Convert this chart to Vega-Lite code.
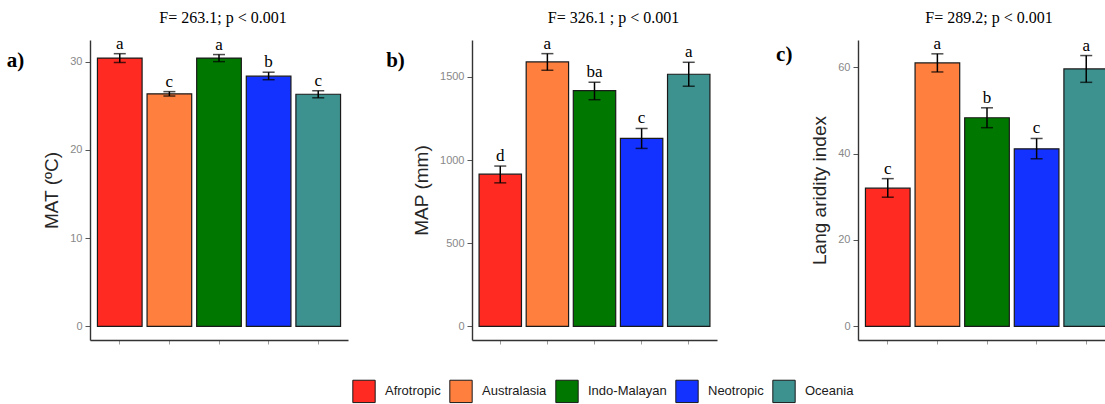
{
  "$schema": "https://vega.github.io/schema/vega-lite/v6.json",
  "padding": {"left": 6, "top": 9, "right": 0, "bottom": 0},
  "background": "white",
  "datasets": {
    "mat": [
      {"region": "Afrotropic", "mean": 30.4, "lo": 29.9, "hi": 30.9, "group": "a"},
      {"region": "Australasia", "mean": 26.35, "lo": 26.1, "hi": 26.6, "group": "c"},
      {"region": "Indo-Malayan", "mean": 30.4, "lo": 30.0, "hi": 30.8, "group": "a"},
      {"region": "Neotropic", "mean": 28.35, "lo": 27.95, "hi": 28.8, "group": "b"},
      {"region": "Oceania", "mean": 26.3, "lo": 25.9, "hi": 26.7, "group": "c"}
    ],
    "map": [
      {"region": "Afrotropic", "mean": 915, "lo": 863, "hi": 964, "group": "d"},
      {"region": "Australasia", "mean": 1590, "lo": 1540, "hi": 1640, "group": "a"},
      {"region": "Indo-Malayan", "mean": 1417, "lo": 1363, "hi": 1468, "group": "ba"},
      {"region": "Neotropic", "mean": 1130, "lo": 1070, "hi": 1190, "group": "c"},
      {"region": "Oceania", "mean": 1516, "lo": 1444, "hi": 1588, "group": "a"}
    ],
    "lang": [
      {"region": "Afrotropic", "mean": 32.0, "lo": 29.9, "hi": 34.2, "group": "c"},
      {"region": "Australasia", "mean": 61.0, "lo": 58.9, "hi": 63.1, "group": "a"},
      {"region": "Indo-Malayan", "mean": 48.3, "lo": 46.0, "hi": 50.6, "group": "b"},
      {"region": "Neotropic", "mean": 41.1, "lo": 38.8, "hi": 43.5, "group": "c"},
      {"region": "Oceania", "mean": 59.6, "lo": 56.5, "hi": 62.7, "group": "a"}
    ]
  },
  "hconcat": [
    {
      "spacing": 38,
      "hconcat": [
        {
          "title": {"text": "a)", "orient": "left", "anchor": "end", "angle": 0, "font": "Liberation Serif", "fontSize": 21, "fontWeight": "bold", "color": "black", "offset": 1, "baseline": "top", "dy": 40},
          "hconcat": [
            {
              "title": {"text": "F= 263.1; p < 0.001", "frame": "group", "anchor": "middle", "dx": 4},
              "width": 258,
              "height": 300,
              "data": {"name": "mat"},
              "encoding": {
                "x": {"field": "region", "type": "nominal", "sort": null, "scale": {"paddingInner": 0.1, "paddingOuter": 0.15}, "axis": {"labels": false, "title": null}}
              },
              "layer": [
                {
                  "mark": {"type": "bar", "stroke": "#1a1a1a", "strokeWidth": 1.2},
                  "encoding": {
                    "y": {"field": "mean", "type": "quantitative", "title": "MAT (ºC)", "scale": {"domain": [-1.55, 32.45], "nice": false}, "axis": {"values": [0, 10, 20, 30]}},
                    "color": {"field": "region", "type": "nominal", "sort": null}
                  }
                },
                {"mark": {"type": "rule", "color": "black", "strokeWidth": 1.5}, "encoding": {"y": {"field": "lo", "type": "quantitative"}, "y2": {"field": "hi"}}},
                {"mark": {"type": "tick", "orient": "horizontal", "size": 12, "thickness": 1.5, "color": "black"}, "encoding": {"y": {"field": "lo", "type": "quantitative"}}},
                {"mark": {"type": "tick", "orient": "horizontal", "size": 12, "thickness": 1.5, "color": "black"}, "encoding": {"y": {"field": "hi", "type": "quantitative"}}},
                {"mark": {"type": "text", "font": "Liberation Serif", "fontSize": 17, "color": "black", "baseline": "alphabetic", "dy": -5}, "encoding": {"y": {"field": "hi", "type": "quantitative"}, "text": {"field": "group"}}}
              ]
            }
          ]
        },
        {
          "title": {"text": "b)", "orient": "left", "anchor": "end", "angle": 0, "font": "Liberation Serif", "fontSize": 21, "fontWeight": "bold", "color": "black", "offset": -11, "baseline": "top", "dy": 40},
          "hconcat": [
            {
              "title": {"text": "F= 326.1 ; p < 0.001", "frame": "group", "anchor": "middle", "dx": 19},
              "width": 245,
              "height": 300,
              "data": {"name": "map"},
              "encoding": {
                "x": {"field": "region", "type": "nominal", "sort": null, "scale": {"paddingInner": 0.1, "paddingOuter": 0.15}, "axis": {"labels": false, "title": null}}
              },
              "layer": [
                {
                  "mark": {"type": "bar", "stroke": "#1a1a1a", "strokeWidth": 1.2},
                  "encoding": {
                    "y": {"field": "mean", "type": "quantitative", "title": "MAP (mm)", "scale": {"domain": [-82, 1722], "nice": false}, "axis": {"values": [0, 500, 1000, 1500], "format": "d"}},
                    "color": {"field": "region", "type": "nominal", "sort": null}
                  }
                },
                {"mark": {"type": "rule", "color": "black", "strokeWidth": 1.5}, "encoding": {"y": {"field": "lo", "type": "quantitative"}, "y2": {"field": "hi"}}},
                {"mark": {"type": "tick", "orient": "horizontal", "size": 12, "thickness": 1.5, "color": "black"}, "encoding": {"y": {"field": "lo", "type": "quantitative"}}},
                {"mark": {"type": "tick", "orient": "horizontal", "size": 12, "thickness": 1.5, "color": "black"}, "encoding": {"y": {"field": "hi", "type": "quantitative"}}},
                {"mark": {"type": "text", "font": "Liberation Serif", "fontSize": 17, "color": "black", "baseline": "alphabetic", "dy": -5}, "encoding": {"y": {"field": "hi", "type": "quantitative"}, "text": {"field": "group"}}}
              ]
            }
          ]
        }
      ]
    },
    {
      "title": {"text": "c)", "orient": "left", "anchor": "end", "angle": 0, "font": "Liberation Serif", "fontSize": 21, "fontWeight": "bold", "color": "black", "offset": 2, "baseline": "top", "dy": 34},
      "hconcat": [
        {
          "title": {"text": "F= 289.2; p < 0.001", "frame": "group", "anchor": "middle", "dx": 2},
          "width": 258,
          "height": 300,
          "data": {"name": "lang"},
          "encoding": {
            "x": {"field": "region", "type": "nominal", "sort": null, "scale": {"paddingInner": 0.1, "paddingOuter": 0.15}, "axis": {"labels": false, "title": null}}
          },
          "layer": [
            {
              "mark": {"type": "bar", "stroke": "#1a1a1a", "strokeWidth": 1.2},
              "encoding": {
                "y": {"field": "mean", "type": "quantitative", "title": "Lang aridity index", "scale": {"domain": [-3.16, 66.3], "nice": false}, "axis": {"values": [0, 20, 40, 60]}},
                "color": {"field": "region", "type": "nominal", "sort": null}
              }
            },
            {"mark": {"type": "rule", "color": "black", "strokeWidth": 1.5}, "encoding": {"y": {"field": "lo", "type": "quantitative"}, "y2": {"field": "hi"}}},
            {"mark": {"type": "tick", "orient": "horizontal", "size": 12, "thickness": 1.5, "color": "black"}, "encoding": {"y": {"field": "lo", "type": "quantitative"}}},
            {"mark": {"type": "tick", "orient": "horizontal", "size": 12, "thickness": 1.5, "color": "black"}, "encoding": {"y": {"field": "hi", "type": "quantitative"}}},
            {"mark": {"type": "text", "font": "Liberation Serif", "fontSize": 17, "color": "black", "baseline": "alphabetic", "dy": -5}, "encoding": {"y": {"field": "hi", "type": "quantitative"}, "text": {"field": "group"}}}
          ]
        }
      ]
    }
  ],
  "spacing": 59,
  "resolve": {"scale": {"color": "shared"}},
  "config": {
    "view": {"stroke": null},
    "font": "Liberation Sans",
    "title": {"font": "Liberation Serif", "fontSize": 16, "fontWeight": "normal", "color": "black", "offset": 9},
    "range": {"category": ["#ff2a22", "#ff7f3f", "#007800", "#1432ff", "#3d918f"]},
    "axis": {
      "grid": false,
      "domainColor": "#333333",
      "domainWidth": 1.4,
      "tickColor": "#555555",
      "tickSize": 5,
      "tickWidth": 1,
      "labelColor": "#888888",
      "labelFont": "Liberation Sans",
      "labelFontSize": 11,
      "labelPadding": 3,
      "titleFont": "Liberation Sans",
      "titleFontSize": 19,
      "titleFontWeight": "normal",
      "titleColor": "#262626",
      "titlePadding": 8
    },
    "axisX": {"tickColor": "#9a9a9a", "tickSize": 4},
    "legend": {
      "orient": "none",
      "direction": "horizontal",
      "columns": 5,
      "legendX": 262,
      "legendY": 339,
      "title": null,
      "symbolType": "square",
      "symbolSize": 500,
      "symbolStrokeColor": "#1a1a1a",
      "symbolStrokeWidth": 1,
      "symbolOpacity": 1,
      "labelFont": "Liberation Sans",
      "labelFontSize": 13,
      "labelColor": "#1a1a1a",
      "labelOffset": 9,
      "columnPadding": 6
    }
  }
}
